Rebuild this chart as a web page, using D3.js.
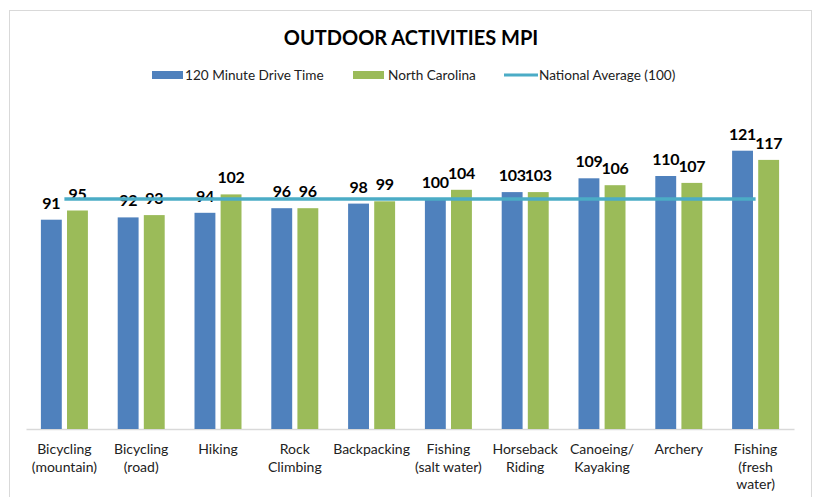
<!DOCTYPE html>
<html>
<head>
<meta charset="utf-8">
<script src="https://cdn.jsdelivr.net/npm/d3@7"></script>
<style>
  html, body { margin: 0; padding: 0; background: #fff; }
  svg { display: block; }
  text { font-family: Lato, "Open Sans", sans-serif; }
</style>
</head>
<body>
<svg id="chart" width="817" height="497"></svg>
<script>
const title = "OUTDOOR ACTIVITIES MPI";
const categories = [
  "Bicycling\n(mountain)", "Bicycling\n(road)", "Hiking", "Rock\nClimbing", "Backpacking",
  "Fishing\n(salt water)", "Horseback\nRiding", "Canoeing/\nKayaking", "Archery", "Fishing\n(fresh\nwater)"
];
const seriesNames = ["120 Minute Drive Time", "North Carolina"];
const lineName = "National Average (100)";
const driveTime = [91, 92, 94, 96, 98, 100, 103, 109, 110, 121];
const northCarolina = [95, 93, 102, 96, 99, 104, 103, 106, 107, 117];
const nationalAverage = [100, 100, 100, 100, 100, 100, 100, 100, 100, 100];
const yDomain = [0, 140];

const colors = { blue: "#4F81BD", green: "#9BBB59", line: "#4BACC6" };

const svg = d3.select("#chart");

// outer chart border
svg.append("rect").attr("x", 9.5).attr("y", 10.5).attr("width", 802).attr("height", 500)
  .attr("fill", "#fff").attr("stroke", "#D9D9D9").attr("stroke-width", 1);

const x0 = d3.scaleBand().domain(categories).range([26, 794]).padding(0);
const x1 = d3.scaleBand().domain(seriesNames).range([-23.5, 23.5]).paddingInner(0.2).paddingOuter(0);
const y = d3.scaleLinear().domain(yDomain).range([429, 107]);

// title
svg.append("text").attr("x", 411).attr("y", 45).attr("text-anchor", "middle")
  .attr("font-size", 20).attr("font-weight", "bold").attr("fill", "#000").text(title);

// legend
const legend = svg.append("g").attr("font-size", 13.6).attr("fill", "#222");
const lg = [
  { type: "rect", color: colors.blue, label: seriesNames[0], sx: 152, tx: 185 },
  { type: "rect", color: colors.green, label: seriesNames[1], sx: 353, tx: 388 },
  { type: "line", color: colors.line, label: lineName, sx: 504, tx: 539 }
];
lg.forEach(d => {
  if (d.type === "rect") {
    legend.append("rect").attr("x", d.sx).attr("y", 71).attr("width", 31).attr("height", 8).attr("fill", d.color);
  } else {
    legend.append("line").attr("x1", d.sx).attr("x2", d.sx + 34).attr("y1", 75).attr("y2", 75)
      .attr("stroke", d.color).attr("stroke-width", 3);
  }
  legend.append("text").attr("x", d.tx).attr("y", 80).attr("fill", "#222").text(d.label);
});

// axis
const xAxis = d3.axisBottom(x0).tickSize(0).tickFormat("");
const ax = svg.append("g").attr("transform", `translate(0,${y(0)})`).call(xAxis);
ax.select(".domain").attr("stroke", "#D9D9D9").attr("stroke-width", 1.5);

// bars
const data = categories.map((c, i) => ({ cat: c, vals: [driveTime[i], northCarolina[i]] }));
const seriesColors = [colors.blue, colors.green];
const groups = svg.append("g").selectAll("g").data(data).join("g")
  .attr("transform", d => `translate(${x0(d.cat) + x0.bandwidth() / 2},0)`);
groups.selectAll("rect").data(d => d.vals.map((v, j) => ({ v, j }))).join("rect")
  .attr("x", d => x1(seriesNames[d.j]))
  .attr("width", x1.bandwidth())
  .attr("y", d => y(d.v))
  .attr("height", d => y(0) - y(d.v))
  .attr("fill", d => seriesColors[d.j]);

// national average line
const line = d3.line().x((d, i) => x0(categories[i]) + x0.bandwidth() / 2).y(d => y(d));
svg.append("path").datum(nationalAverage).attr("d", line)
  .attr("fill", "none").attr("stroke", colors.line).attr("stroke-width", 3.5);

// data labels
groups.selectAll("text.lbl").data(d => d.vals.map((v, j) => ({ v, j }))).join("text")
  .attr("class", "lbl")
  .attr("x", d => x1(seriesNames[d.j]) + x1.bandwidth() / 2)
  .attr("y", d => y(d.v) - 11)
  .attr("text-anchor", "middle")
  .attr("font-size", 16).attr("font-weight", "bold").attr("fill", "#000")
  .attr("letter-spacing", -0.3)
  .text(d => d.v);

// category labels
const catG = svg.append("g").attr("font-size", 14).attr("fill", "#222");
categories.forEach(c => {
  const lines = c.split("\n");
  const t = catG.append("text").attr("text-anchor", "middle")
    .attr("x", x0(c) + x0.bandwidth() / 2).attr("y", 454);
  lines.forEach((ln, k) => {
    t.append("tspan").attr("x", x0(c) + x0.bandwidth() / 2).attr("dy", k === 0 ? 0 : 17.5).text(ln);
  });
});
</script>
</body>
</html>
